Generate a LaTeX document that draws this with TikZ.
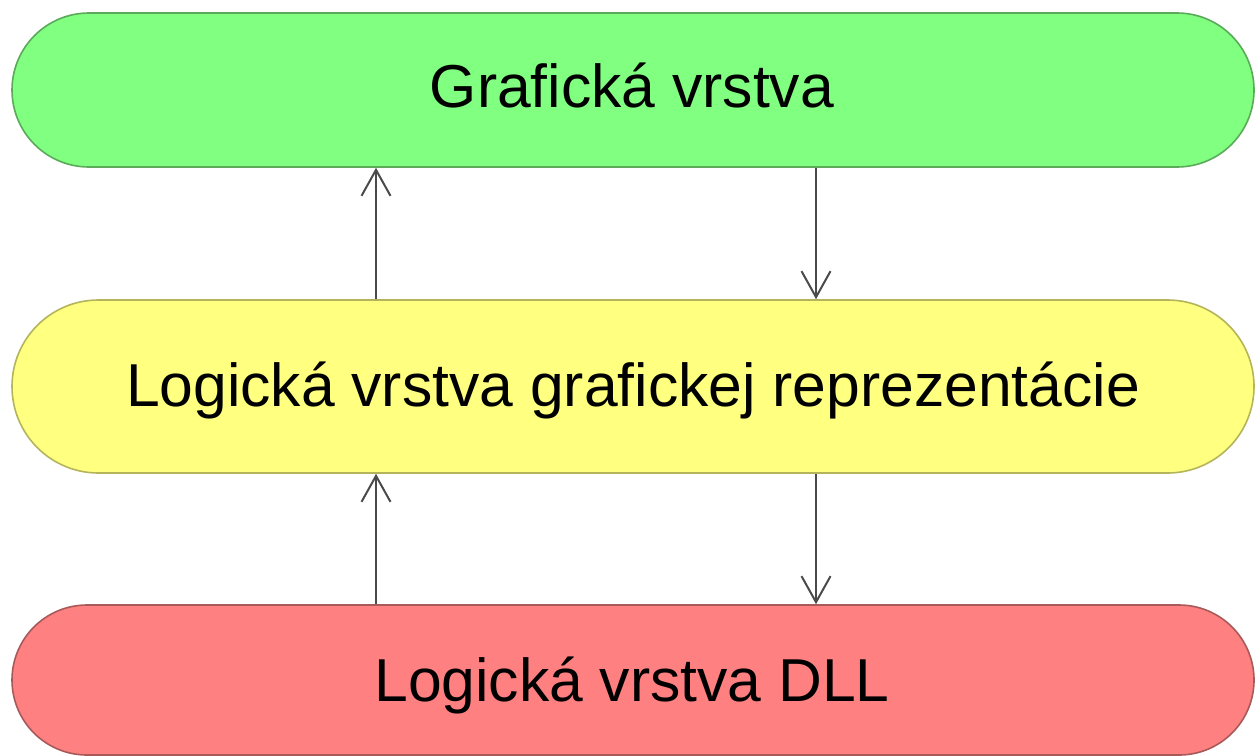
\documentclass[tikz,border=0pt]{standalone}
\usepackage{fontspec}
\setmainfont{Liberation Sans}
\usetikzlibrary{shapes.misc,arrows.meta}

\definecolor{grfill}{HTML}{80FF80}
\definecolor{grline}{HTML}{5AAA5A}
\definecolor{ylfill}{HTML}{FFFF80}
\definecolor{ylline}{HTML}{B4B45A}
\definecolor{rdfill}{HTML}{FF8080}
\definecolor{rdline}{HTML}{A85A5A}
\definecolor{arrline}{HTML}{4A4A4A}

\tikzset{
  layer/.style={rounded rectangle, minimum width=621pt, inner sep=0pt, line width=0.8pt},
  caption/.style={anchor=base, inner sep=0pt, font=\fontsize{30.3}{36}\selectfont},
  flow/.style={draw=arrline, line width=1pt,
    -{Straight Barb[length=13pt, width=14.5pt, line width=1pt]}},
}

\begin{document}
\begin{tikzpicture}[x=0.5pt, y=-0.5pt]
  \useasboundingbox (0,0) rectangle (1256,755);

  % the three layers
  \node[layer, fill=grfill, draw=grline, minimum height=77pt] (gr) at (633,90) {};
  \node[layer, fill=ylfill, draw=ylline, minimum height=86.5pt] (yl) at (633,386.5) {};
  \node[layer, fill=rdfill, draw=rdline, minimum height=75pt] (rd) at (633,680) {};

  \node[caption] (grt) at (632,107) {Grafická vrstva};
  \node[caption] (ylt) at (633,406) {Logická vrstva grafickej reprezentácie};
  \node[caption] (rdt) at (632,701) {Logická vrstva DLL};

  % columns of the connectors
  \coordinate (up) at (376,0);
  \coordinate (down) at (816,0);

  \draw[flow] (up |- yl.north) -- (up |- gr.south);
  \draw[flow] (down |- gr.south) -- (down |- yl.north);
  \draw[flow] (up |- rd.north) -- (up |- yl.south);
  \draw[flow] (down |- yl.south) -- (down |- rd.north);
\end{tikzpicture}
\end{document}
